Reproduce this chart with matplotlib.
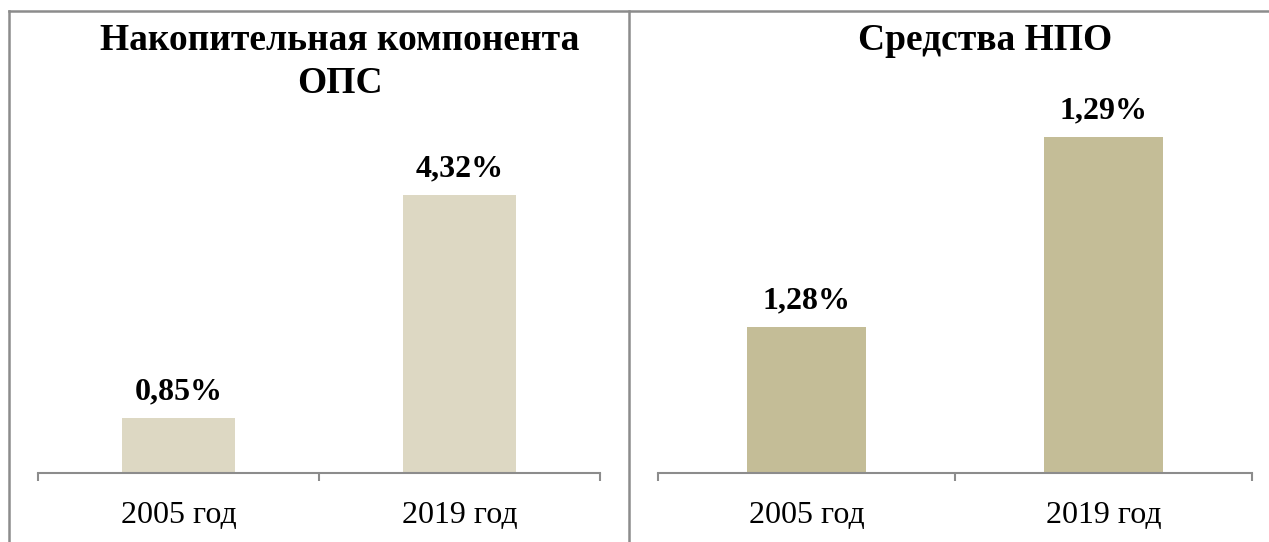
import matplotlib
matplotlib.use("Agg")
import matplotlib.pyplot as plt
from matplotlib.lines import Line2D

categories = ["2005 год", "2019 год"]
ops_values = [0.85, 4.32]
npo_values = [1.28, 1.29]
ops_labels = ["0,85%", "4,32%"]
npo_labels = ["1,28%", "1,29%"]
title_ops = ["Накопительная компонента", "ОПС"]
title_npo = "Средства НПО"

W, H = 1269, 542
fig = plt.figure(figsize=(W / 100, H / 100), dpi=100)
plt.rcParams['font.family'] = ['Liberation Serif', 'DejaVu Serif']

def fx(px):
    return px / W

def fy(py):
    return 1 - py / H

base_px = 473
top_px = 73
ax1 = fig.add_axes([fx(38), fy(base_px), fx(600 - 38), (base_px - top_px) / H])
ax2 = fig.add_axes([fx(658), fy(base_px), fx(1252 - 658), (base_px - top_px) / H])

grey = "#8c8c8c"
y2min = 1.28 - 146 / 19000
specs = [
    (ax1, ops_values, ops_labels, "#DDD8C3", (0, 400 / 64.3)),
    (ax2, npo_values, npo_labels, "#C4BD97", (y2min, y2min + 400 / 19000)),
]
for ax, vals, labs, col, yl in specs:
    x = list(range(len(categories)))
    ax.bar(x, vals, width=0.4, color=col)
    ax.set_xlim(-0.5, 1.5)
    ax.set_ylim(*yl)
    for xi, v, lab in zip(x, vals, labs):
        ax.annotate(lab, (xi, v), xytext=(0, 13.5), textcoords="offset points",
                    ha="center", va="baseline", fontsize=23, fontweight="bold")
    for s in ["top", "right", "left"]:
        ax.spines[s].set_visible(False)
    ax.spines["bottom"].set_color(grey)
    ax.spines["bottom"].set_linewidth(1.5)
    ax.set_yticks([])
    ax.set_xticks([-0.5, 0.5, 1.5], minor=False)
    ax.set_xticklabels([])
    ax.tick_params(axis="x", which="major", length=6, width=1.5, color=grey, direction="out")
    ax.set_xticks(x, minor=True)
    ax.set_xticklabels(categories, minor=True, fontsize=23)
    ax.tick_params(axis="x", which="minor", length=0, pad=20)
    ax.patch.set_alpha(0)

fig.text(fx(340), fy(50), title_ops[0], ha="center", va="baseline", fontsize=27,
         fontweight="bold")
fig.text(fx(340), fy(93), title_ops[1], ha="center", va="baseline", fontsize=27,
         fontweight="bold")
fig.text(fx(985), fy(50), title_npo, ha="center", va="baseline", fontsize=27,
         fontweight="bold")

lw = 1.8
fig.add_artist(Line2D([fx(9), fx(9)], [fy(11), 0], color=grey, lw=lw, transform=fig.transFigure))
fig.add_artist(Line2D([fx(9), 1], [fy(11), fy(11)], color=grey, lw=lw, transform=fig.transFigure))
fig.add_artist(Line2D([fx(629), fx(629)], [fy(11), 0], color=grey, lw=lw, transform=fig.transFigure))

fig.savefig("out.png", dpi=100)
